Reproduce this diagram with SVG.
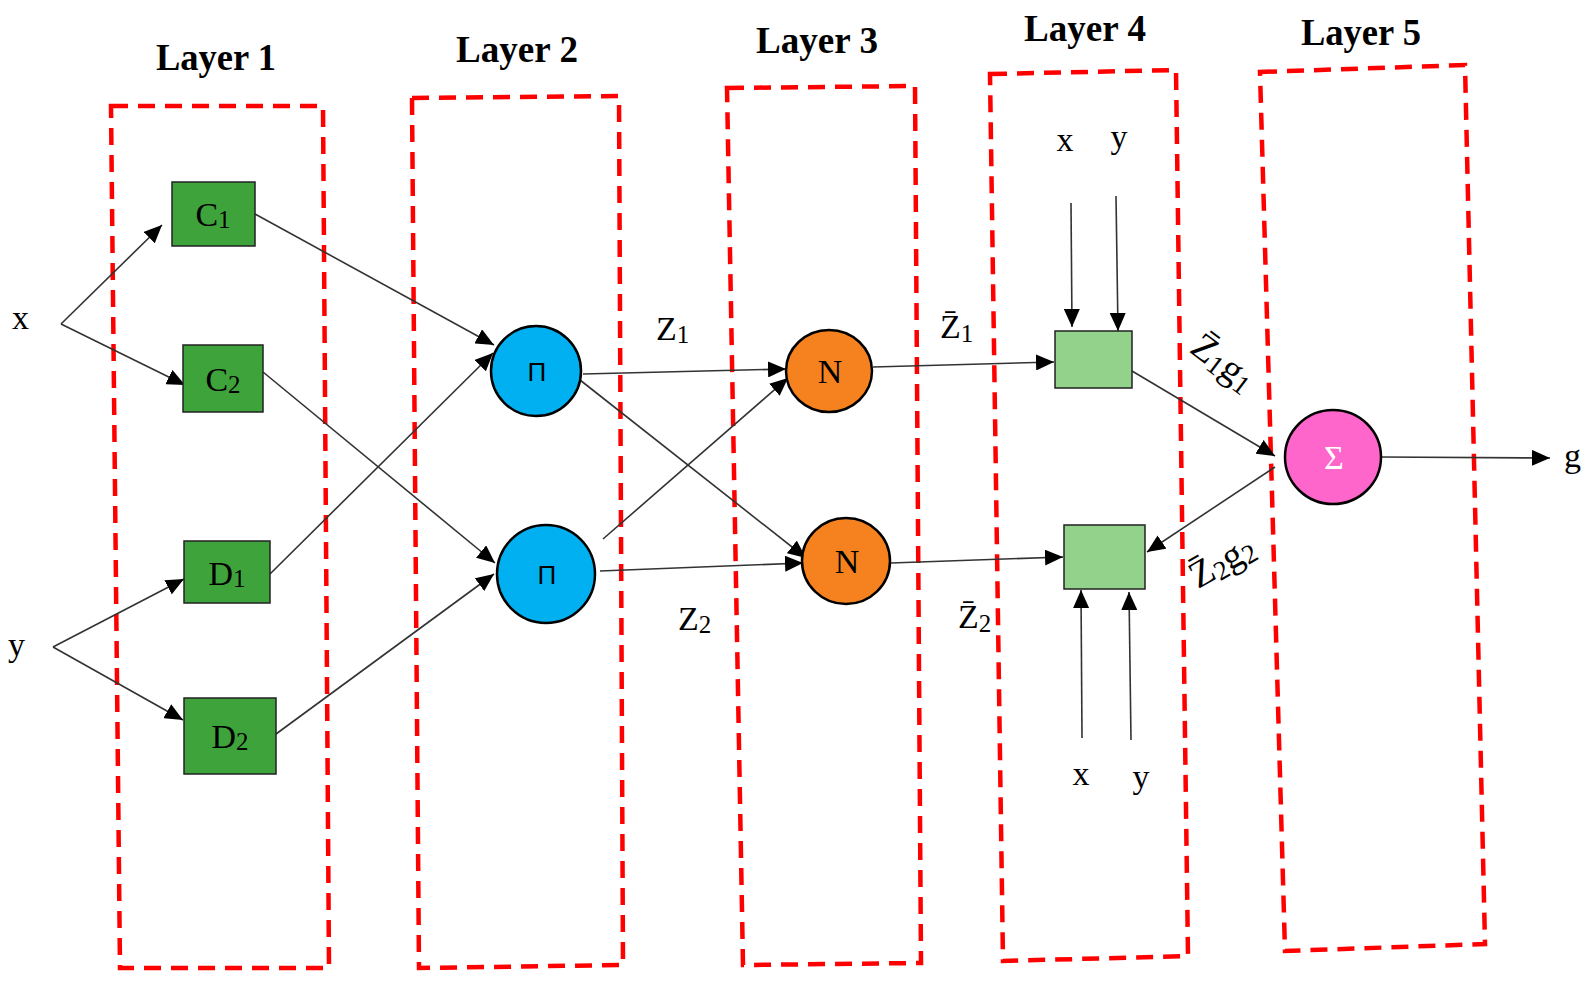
<svg xmlns="http://www.w3.org/2000/svg" width="1589" height="981" viewBox="0 0 1589 981">
<defs>
<marker id="ah" markerUnits="userSpaceOnUse" markerWidth="20" markerHeight="16" refX="18" refY="8" orient="auto">
<path d="M0,0 L18,8 L0,16 Z" fill="#000"/>
</marker>
<style>
.layer{fill:none;stroke:#ff0000;stroke-width:4.5;stroke-dasharray:17 10}
.lt{font-family:"Liberation Serif",serif;font-weight:bold;font-size:38px;text-anchor:middle;fill:#000}
.t{font-family:"Liberation Serif",serif;font-size:34px;fill:#000}
.c{text-anchor:middle}
.sq{fill:#3fa33c;stroke:#222;stroke-width:1.5}
.lsq{fill:#93d28a;stroke:#222;stroke-width:1.5}
.pi{fill:#00b0f0;stroke:#000;stroke-width:2.5}
.n{fill:#f5821f;stroke:#000;stroke-width:2.5}
.s{fill:#ff66cc;stroke:#000;stroke-width:2.5}
.e{fill:none;stroke:#333;stroke-width:1.6;marker-end:url(#ah)}
</style>
</defs>
<rect width="1589" height="981" fill="#fff"/>
<g id="layers">
<polygon class="layer" points="111,106 323,106 329,968 120,968"/>
<polygon class="layer" points="412,98 619,96 623,965 419,968"/>
<polygon class="layer" points="727,88 915,86 921,963 743,965"/>
<polygon class="layer" points="990,74 1176,70 1188,956 1003,961"/>
<polygon class="layer" points="1260,72 1465,65 1485,944 1285,951"/>
<text class="lt" x="216" y="70" textLength="120" lengthAdjust="spacingAndGlyphs">Layer 1</text>
<text class="lt" x="517" y="62" textLength="122" lengthAdjust="spacingAndGlyphs">Layer 2</text>
<text class="lt" x="817" y="53" textLength="122" lengthAdjust="spacingAndGlyphs">Layer 3</text>
<text class="lt" x="1085" y="41" textLength="122" lengthAdjust="spacingAndGlyphs">Layer 4</text>
<text class="lt" x="1361" y="45" textLength="120" lengthAdjust="spacingAndGlyphs">Layer 5</text>
</g>
<g id="connectors">
<path class="e" d="M61,324 L162,225"/>
<path class="e" d="M61,324 L185,385"/>
<path class="e" d="M53,647 L184,579"/>
<path class="e" d="M53,647 L183,720"/>
<path class="e" d="M255,214 L494,345"/>
<path class="e" d="M263,372 L495,563"/>
<path class="e" d="M270,574 L493,353"/>
<path class="e" d="M276,734 L494,574"/>
<path class="e" d="M583,374 L786,369"/>
<path class="e" d="M580,380 L806,558"/>
<path class="e" d="M603,539 L788,378"/>
<path class="e" d="M600,571 L803,563"/>
<path class="e" d="M873,367 L1054,362"/>
<path class="e" d="M891,563 L1063,557"/>
<path class="e" d="M1132,371 L1275,456"/>
<path class="e" d="M1275,467 L1147,552"/>
<path class="e" d="M1380,457 L1550,458"/>
<path class="e" d="M1071,203 L1072,327"/>
<path class="e" d="M1116,196 L1118,331"/>
<path class="e" d="M1082,738 L1081,590"/>
<path class="e" d="M1131,740 L1129,592"/>
</g>
<g id="inputs">
<text class="t" x="12" y="329">x</text>
<text class="t" x="8" y="656">y</text>
<text class="t" x="1564" y="467">g</text>
<text class="t c" x="1065" y="151">x</text>
<text class="t c" x="1119" y="148">y</text>
<text class="t c" x="1081" y="785">x</text>
<text class="t c" x="1141" y="788">y</text>
</g>
<g id="edge-labels">
<text class="t" x="656" y="340">Z<tspan font-size="25" dy="3">1</tspan></text>
<text class="t" x="678" y="630">Z<tspan font-size="25" dy="3">2</tspan></text>
<text class="t" x="940" y="338">Z&#x0304;<tspan font-size="25" dy="4">1</tspan></text>
<text class="t" x="958" y="628">Z&#x0304;<tspan font-size="25" dy="4">2</tspan></text>
<text class="t" style="font-size:38px" transform="translate(1216,372) rotate(37)" text-anchor="middle">Z&#x0304;<tspan font-size="27" dy="4">1</tspan><tspan dy="-4">g</tspan><tspan font-size="27" dy="4">1</tspan></text>
<text class="t" style="font-size:38px" transform="translate(1228,572) rotate(-30)" text-anchor="middle">Z&#x0304;<tspan font-size="27" dy="4">2</tspan><tspan dy="-4">g</tspan><tspan font-size="27" dy="4">2</tspan></text>
</g>
<g id="C1"><rect class="sq" x="172" y="182" width="83" height="64"/><text class="t c" x="213" y="226">C<tspan font-size="25" dy="2">1</tspan></text></g>
<g id="C2"><rect class="sq" x="183" y="345" width="80" height="67"/><text class="t c" x="223" y="391">C<tspan font-size="25" dy="2">2</tspan></text></g>
<g id="D1"><rect class="sq" x="184" y="541" width="86" height="62"/><text class="t c" x="227" y="585">D<tspan font-size="25" dy="2">1</tspan></text></g>
<g id="D2"><rect class="sq" x="184" y="698" width="92" height="76"/><text class="t c" x="230" y="748">D<tspan font-size="25" dy="2">2</tspan></text></g>
<g id="Pi1"><circle class="pi" cx="536" cy="371" r="45"/><text x="537" y="381" font-family="Liberation Sans, sans-serif" font-size="26" text-anchor="middle">Π</text></g>
<g id="Pi2"><circle class="pi" cx="546" cy="574" r="49"/><text x="547" y="584" font-family="Liberation Sans, sans-serif" font-size="26" text-anchor="middle">Π</text></g>
<g id="N1"><ellipse class="n" cx="829" cy="371" rx="43" ry="41"/><text class="t c" x="830" y="383">N</text></g>
<g id="N2"><ellipse class="n" cx="846" cy="561" rx="44" ry="43"/><text class="t c" x="847" y="573">N</text></g>
<g id="R1"><rect class="lsq" x="1055" y="331" width="77" height="57"/></g>
<g id="R2"><rect class="lsq" x="1064" y="525" width="81" height="64"/></g>
<g id="Sigma"><ellipse class="s" cx="1333" cy="457" rx="48" ry="47"/><text class="t c" x="1334" y="469" style="fill:#fff">Σ</text></g>
</svg>
